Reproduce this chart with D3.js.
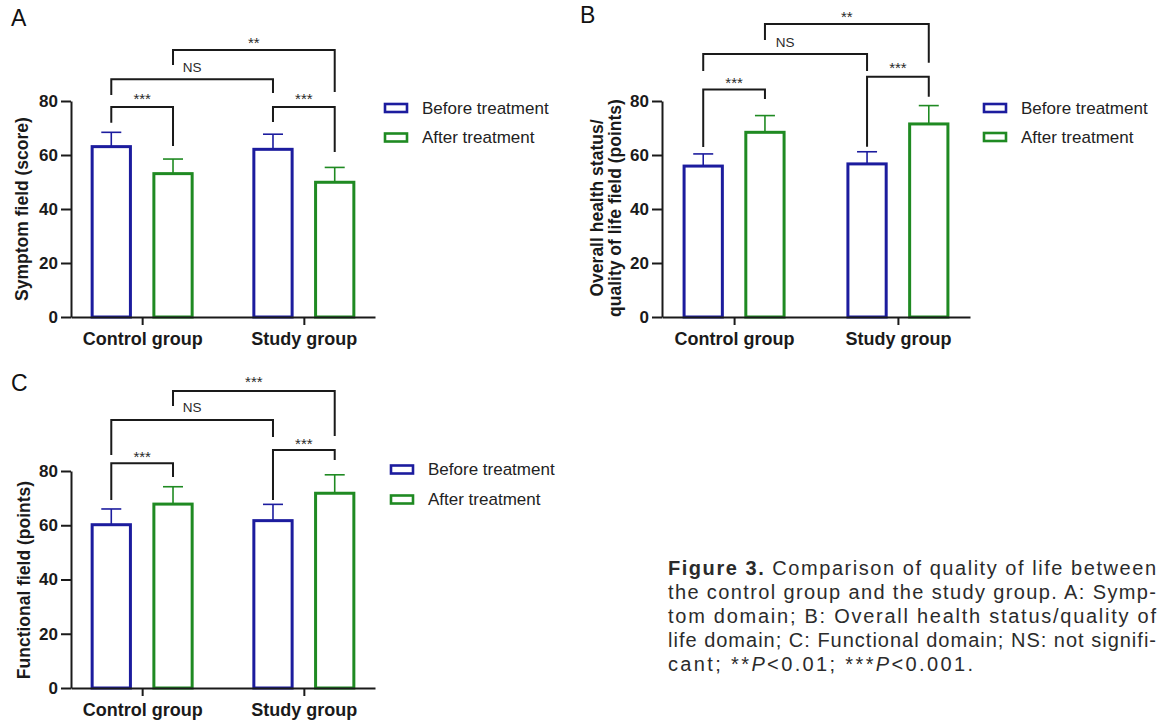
<!DOCTYPE html>
<html><head><meta charset="utf-8">
<script src="https://cdn.jsdelivr.net/npm/d3@7"></script>
<style>
html,body{margin:0;padding:0;background:#fff;}
svg{display:block;}
</style></head><body>
<svg id="fig" width="1158" height="721"></svg>
<script>
// ---------------- data ----------------
const groups = ["Control group", "Study group"];
const seriesNames = ["Before treatment", "After treatment"];
const yTickValues = [0, 20, 40, 60, 80];

// A: Symptom field (score)
const symptomBefore = [63.1, 62.1];
const symptomBeforeSD = [5.3, 5.6];
const symptomAfter = [53.1, 49.9];
const symptomAfterSD = [5.4, 5.5];

// B: Overall health status / quality of life field (points)
const healthBefore = [55.9, 56.7];
const healthBeforeSD = [4.5, 4.5];
const healthAfter = [68.4, 71.5];
const healthAfterSD = [6.2, 6.8];

// C: Functional field (points)
const functionBefore = [60.2, 61.7];
const functionBeforeSD = [5.8, 6.0];
const functionAfter = [67.8, 71.8];
const functionAfterSD = [6.4, 6.8];

// comparisons: [groupIndex, seriesIndex] pairs
const comparisons = [
  {a: [0, 0], b: [0, 1]},
  {a: [0, 0], b: [1, 0]},
  {a: [1, 0], b: [1, 1]},
  {a: [0, 1], b: [1, 1]}
];
const sigA = ["***", "NS", "***", "**"];
const sigB = ["***", "NS", "***", "**"];
const sigC = ["***", "NS", "***", "***"];

// ---------------- layout / style ----------------
const COLORS = ["#1c1c9e", "#1f8a22"];
const INK = "#1a1a1a";
const FONT = "'Liberation Sans', Arial, Helvetica, sans-serif";

const panels = [
  {
    letter: "A", letterPos: [11, 26],
    title: ["Symptom field (score)"], titleX: [22], titleY: 209,
    before: symptomBefore, beforeSD: symptomBeforeSD,
    after: symptomAfter, afterSD: symptomAfterSD, sig: sigA,
    xRange: [71, 375], yRange: [317, 101],
    legend: [385, 108, 137.5],
    // [bracket level, left leg end, right leg end, label centre] in value units
    brackets: [[77.8, 71.9, 63.3, 82.2], [88.1, 82.2, 83.0, 92.6], [77.8, 72.2, 61.1, 82.2], [98.9, 93.3, 83.3, 103.0]]
  },
  {
    letter: "B", letterPos: [580, 23],
    title: ["Overall health status/", "quality of life field (points)"], titleX: [597, 615], titleY: 208,
    before: healthBefore, beforeSD: healthBeforeSD,
    after: healthAfter, afterSD: healthAfterSD, sig: sigB,
    xRange: [662, 970], yRange: [317, 101],
    legend: [984, 108, 137],
    brackets: [[84.3, 63.0, 80.7, 88.1], [97.4, 91.1, 91.1, 101.9], [89.0, 63.1, 81.6, 93.6], [108.5, 102.6, 94.2, 112.5]]
  },
  {
    letter: "C", letterPos: [11, 391],
    title: ["Functional field (points)"], titleX: [24], titleY: 580,
    before: functionBefore, beforeSD: functionBeforeSD,
    after: functionAfter, afterSD: functionAfterSD, sig: sigC,
    xRange: [71, 375], yRange: [688, 471],
    legend: [391, 469.5, 499.5],
    brackets: [[82.9, 69.3, 77.8, 86.6], [98.8, 85.9, 92.5, 103.6], [87.7, 69.3, 84.1, 91.4], [109.5, 104.0, 92.9, 114.3]]
  }
];

const svg = d3.select("#fig");
svg.append("rect").attr("width", 1158).attr("height", 721).attr("fill", "#fff");

panels.forEach(p => {
  const g = svg.append("g");
  const x = d3.scalePoint().domain(groups).range(p.xRange).padding(0.44);
  const sub = d3.scaleBand().domain(seriesNames).range([-50, 50]).paddingInner(0.38);
  const y = d3.scaleLinear().domain([0, 80]).range(p.yRange);
  const values = [p.before, p.after];
  const sds = [p.beforeSD, p.afterSD];
  const cx = (gi, si) => x(groups[gi]) + sub(seriesNames[si]) + sub.bandwidth() / 2;

  // panel letter
  g.append("text").attr("x", p.letterPos[0]).attr("y", p.letterPos[1])
    .attr("font-family", FONT).attr("font-size", 23).attr("fill", "#111").text(p.letter);

  // bars
  const barData = [];
  groups.forEach((gn, gi) => seriesNames.forEach((sn, si) => {
    barData.push({gi, si, v: values[si][gi], sd: sds[si][gi]});
  }));

  // error bars
  const eb = g.selectAll(".eb").data(barData).enter().append("g");
  eb.append("line")
    .attr("x1", d => cx(d.gi, d.si)).attr("x2", d => cx(d.gi, d.si))
    .attr("y1", d => y(d.v)).attr("y2", d => y(d.v + d.sd))
    .attr("stroke", d => COLORS[d.si]).attr("stroke-width", 1.6);
  eb.append("line")
    .attr("x1", d => cx(d.gi, d.si) - 10).attr("x2", d => cx(d.gi, d.si) + 10)
    .attr("y1", d => y(d.v + d.sd)).attr("y2", d => y(d.v + d.sd))
    .attr("stroke", d => COLORS[d.si]).attr("stroke-width", 1.6);

  g.selectAll(".bar").data(barData).enter().append("rect")
    .attr("x", d => cx(d.gi, d.si) - sub.bandwidth() / 2)
    .attr("width", sub.bandwidth())
    .attr("y", d => y(d.v))
    .attr("height", d => y(0) - y(d.v))
    .attr("fill", "#fff").attr("fill-opacity", 0)
    .attr("stroke", d => COLORS[d.si]).attr("stroke-width", 3);

  // y axis
  const yAxis = g.append("g").attr("transform", `translate(${p.xRange[0]},0)`)
    .call(d3.axisLeft(y).tickValues(yTickValues).tickSize(10).tickSizeOuter(0).tickPadding(3));
  yAxis.select(".domain").attr("stroke", INK).attr("stroke-width", 2);
  yAxis.selectAll(".tick line").attr("stroke", INK).attr("stroke-width", 2);
  yAxis.selectAll(".tick text").attr("font-family", FONT).attr("font-size", 17)
    .attr("font-weight", "bold").attr("fill", INK);

  // x axis
  const xAxis = g.append("g").attr("transform", `translate(0,${y(0)})`)
    .call(d3.axisBottom(x).tickSize(8).tickSizeOuter(0).tickPadding(7));
  xAxis.select(".domain").attr("stroke", INK).attr("stroke-width", 2);
  xAxis.selectAll(".tick line").attr("stroke", INK).attr("stroke-width", 2);
  xAxis.selectAll(".tick text").attr("font-family", FONT).attr("font-size", 18)
    .attr("font-weight", "bold").attr("fill", INK);

  // y title
  p.title.forEach((t, i) => {
    g.append("text")
      .attr("transform", `translate(${p.titleX[i]},${p.titleY}) rotate(-90)`)
      .attr("text-anchor", "middle").attr("dominant-baseline", "central")
      .attr("font-family", FONT).attr("font-size", 17.5).attr("font-weight", "bold")
      .attr("fill", INK).text(t);
  });

  // brackets
  comparisons.forEach((c, i) => {
    const [lvl, le, re, lab] = p.brackets[i];
    const x1 = cx(c.a[0], c.a[1]), x2 = cx(c.b[0], c.b[1]);
    g.append("path")
      .attr("d", `M${x1},${y(le)}V${y(lvl)}H${x2}V${y(re)}`)
      .attr("fill", "none").attr("stroke", INK).attr("stroke-width", 2);
    const label = p.sig[i];
    const isStar = label.indexOf("*") >= 0;
    const fs = isStar ? 15 : 13.5;
    const off = isStar ? fs * 0.58 : fs * 0.36;
    g.append("text")
      .attr("x", (x1 + x2) / 2).attr("y", y(lab) + off)
      .attr("text-anchor", "middle")
      .attr("font-family", FONT).attr("font-size", fs)
      .attr("fill", "#2a2a2a").text(label);
  });

  // legend
  seriesNames.forEach((s, si) => {
    const ly = p.legend[1 + si];
    g.append("rect").attr("x", p.legend[0]).attr("y", ly - 4)
      .attr("width", 22).attr("height", 8)
      .attr("fill", "#fff").attr("stroke", COLORS[si]).attr("stroke-width", 2.6);
    g.append("text").attr("x", p.legend[0] + 37).attr("y", ly)
      .attr("dominant-baseline", "central")
      .attr("font-family", FONT).attr("font-size", 17).attr("fill", "#222").text(s);
  });
});

// ---------------- caption ----------------
const captionLines = [
  [{t: "Figure 3.", b: true}, {t: " Comparison of quality of life between"}],
  [{t: "the control group and the study group. A: Symp-"}],
  [{t: "tom domain; B: Overall health status/quality of"}],
  [{t: "life domain; C: Functional domain; NS: not signifi-"}],
  [{t: "cant; **"}, {t: "P", i: true}, {t: "<0.01; ***"}, {t: "P", i: true}, {t: "<0.001."}]
];
const captionWidths = [488, 488, 488, 488, 305];
captionLines.forEach((line, li) => {
  const t = svg.append("text").attr("x", 668).attr("y", 575 + li * 24)
    .attr("font-family", "'Liberation Sans', Arial, sans-serif")
    .attr("font-size", 20).attr("fill", "#2b2b2b")
    .attr("textLength", captionWidths[li]).attr("lengthAdjust", "spacing")
    .style("white-space", "pre");
  line.forEach(seg => {
    t.append("tspan").text(seg.t)
      .attr("font-weight", seg.b ? "bold" : null)
      .attr("font-style", seg.i ? "italic" : null);
  });
});
</script>
</body></html>
